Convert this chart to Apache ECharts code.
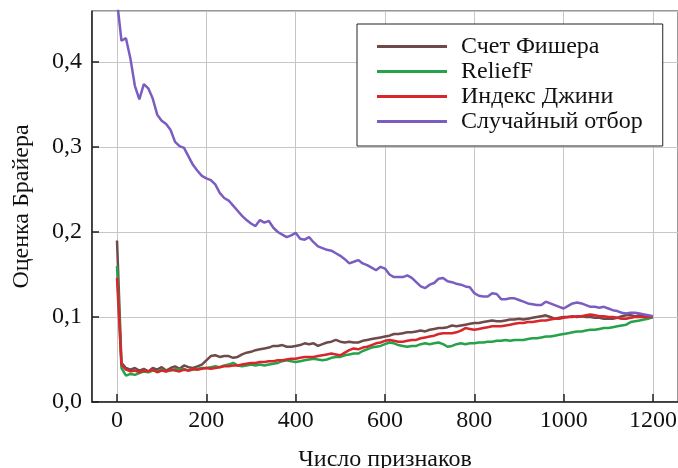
<!DOCTYPE html>
<html>
<head>
<meta charset="utf-8">
<script src="https://cdn.jsdelivr.net/npm/echarts@6/dist/echarts.min.js"></script>
<style>
  html, body { margin: 0; padding: 0; background: #fff; }
  #chart { width: 678px; height: 468px; }
</style>
</head>
<body>
<div id="chart"></div>
<script>
// число признаков: 0, 10, ..., 1200
const featureCounts = Array.from({ length: 121 }, (_, i) => i * 10)

const seriesNames = ['Счет Фишера', 'ReliefF', 'Индекс Джини', 'Случайный отбор']

const fisherScore = [
  0.190, 0.046, 0.040, 0.038, 0.040, 0.037, 0.039, 0.036, 0.040, 0.038,
  0.041, 0.037, 0.040, 0.042, 0.039, 0.043, 0.041, 0.040, 0.042, 0.044,
  0.049, 0.054, 0.055, 0.053, 0.054, 0.054, 0.052, 0.053, 0.056, 0.058,
  0.059, 0.061, 0.062, 0.063, 0.064, 0.066, 0.066, 0.067, 0.065, 0.065,
  0.066, 0.067, 0.069, 0.068, 0.069, 0.066, 0.068, 0.070, 0.071, 0.073,
  0.071, 0.070, 0.071, 0.070, 0.070, 0.072, 0.073, 0.074, 0.075, 0.076,
  0.077, 0.078, 0.080, 0.080, 0.081, 0.082, 0.082, 0.083, 0.084, 0.083,
  0.085, 0.086, 0.087, 0.087, 0.088, 0.090, 0.089, 0.090, 0.091, 0.092,
  0.093, 0.093, 0.094, 0.095, 0.096, 0.095, 0.095, 0.096, 0.097, 0.097,
  0.098, 0.097, 0.098, 0.099, 0.100, 0.101, 0.102, 0.100, 0.098, 0.099,
  0.100, 0.100, 0.101, 0.100, 0.101, 0.100, 0.100, 0.099, 0.099, 0.098,
  0.098, 0.098, 0.099, 0.101, 0.102, 0.102, 0.101, 0.102, 0.101, 0.100,
  0.100
]

const reliefF = [
  0.160, 0.040, 0.031, 0.033, 0.032, 0.034, 0.036, 0.035, 0.037, 0.036,
  0.038, 0.036, 0.037, 0.039, 0.038, 0.039, 0.037, 0.038, 0.039, 0.040,
  0.040, 0.041, 0.042, 0.041, 0.043, 0.044, 0.046, 0.043, 0.042, 0.043,
  0.044, 0.043, 0.044, 0.043, 0.044, 0.045, 0.046, 0.048, 0.049, 0.048,
  0.047, 0.048, 0.049, 0.050, 0.051, 0.050, 0.049, 0.050, 0.052, 0.053,
  0.053, 0.055, 0.056, 0.057, 0.057, 0.060, 0.062, 0.064, 0.065, 0.066,
  0.068, 0.070, 0.069, 0.067, 0.066, 0.065, 0.066, 0.066, 0.068, 0.069,
  0.068, 0.069, 0.070, 0.068, 0.065, 0.066, 0.068, 0.069, 0.068, 0.069,
  0.069, 0.070, 0.070, 0.071, 0.071, 0.072, 0.072, 0.073, 0.072, 0.073,
  0.073, 0.073, 0.074, 0.075, 0.075, 0.076, 0.077, 0.077, 0.078, 0.079,
  0.080, 0.081, 0.082, 0.083, 0.083, 0.084, 0.085, 0.085, 0.086, 0.087,
  0.087, 0.088, 0.089, 0.090, 0.091, 0.094, 0.095, 0.096, 0.097, 0.098,
  0.100
]

const giniIndex = [
  0.146, 0.044, 0.038, 0.036, 0.037, 0.035, 0.037, 0.036, 0.038, 0.035,
  0.037, 0.036, 0.038, 0.037, 0.036, 0.038, 0.037, 0.039, 0.038, 0.039,
  0.040, 0.039, 0.040, 0.041, 0.042, 0.042, 0.043, 0.043, 0.044, 0.045,
  0.046, 0.046, 0.047, 0.047, 0.048, 0.048, 0.049, 0.049, 0.050, 0.051,
  0.051, 0.052, 0.053, 0.053, 0.053, 0.054, 0.055, 0.056, 0.057, 0.056,
  0.055, 0.058, 0.061, 0.063, 0.062, 0.064, 0.065, 0.067, 0.069, 0.070,
  0.072, 0.073, 0.072, 0.071, 0.071, 0.072, 0.073, 0.073, 0.075, 0.076,
  0.077, 0.078, 0.080, 0.081, 0.081, 0.081, 0.082, 0.084, 0.087, 0.086,
  0.085, 0.086, 0.087, 0.088, 0.089, 0.089, 0.089, 0.090, 0.091, 0.092,
  0.093, 0.093, 0.094, 0.094, 0.095, 0.096, 0.096, 0.097, 0.098, 0.098,
  0.099, 0.100, 0.100, 0.101, 0.101, 0.102, 0.103, 0.102, 0.101, 0.101,
  0.100, 0.100, 0.099, 0.098, 0.098, 0.099, 0.100, 0.100, 0.100, 0.100,
  0.100
]

const randomPick = [
  0.472, 0.425, 0.428, 0.404, 0.372, 0.356, 0.374, 0.369, 0.357, 0.338,
  0.331, 0.327, 0.320, 0.306, 0.301, 0.299, 0.289, 0.279, 0.272, 0.266,
  0.263, 0.261, 0.256, 0.246, 0.240, 0.237, 0.231, 0.225, 0.219, 0.214,
  0.210, 0.207, 0.214, 0.211, 0.213, 0.205, 0.200, 0.197, 0.194, 0.196,
  0.199, 0.192, 0.191, 0.194, 0.188, 0.183, 0.181, 0.179, 0.178, 0.175,
  0.172, 0.168, 0.163, 0.165, 0.167, 0.163, 0.161, 0.158, 0.155, 0.159,
  0.157, 0.150, 0.147, 0.147, 0.147, 0.149, 0.146, 0.141, 0.136, 0.134,
  0.138, 0.140, 0.145, 0.146, 0.142, 0.141, 0.139, 0.138, 0.136, 0.135,
  0.128, 0.125, 0.124, 0.124, 0.128, 0.127, 0.121, 0.121, 0.122, 0.122,
  0.120, 0.118, 0.116, 0.115, 0.114, 0.114, 0.118, 0.116, 0.114, 0.112,
  0.110, 0.113, 0.116, 0.117, 0.116, 0.114, 0.112, 0.112, 0.111, 0.112,
  0.110, 0.108, 0.107, 0.105, 0.104, 0.105, 0.105, 0.104, 0.103, 0.102,
  0.101
]

const colors = ['#6e4a4a', '#26a24a', '#d8262c', '#7b5dc2']
const font = 'Liberation Serif'

const toPairs = (values) => values.map((v, i) => [featureCounts[i], v])

const chart = echarts.init(document.getElementById('chart'), null, { renderer: 'canvas' })

const makeSeries = (name, values, color) => ({
  name,
  type: 'line',
  data: toPairs(values),
  symbol: 'none',
  lineStyle: { color, width: 2.5 },
  itemStyle: { color },
  animation: false
})

chart.setOption({
  animation: false,
  textStyle: { fontFamily: font },
  grid: {
    left: 92,
    right: 0,
    top: 11,
    bottom: 66,
    outerBoundsMode: 'none',
    containLabel: false,
    show: true,
    borderColor: '#333',
    borderWidth: 1
  },
  legend: {
    orient: 'vertical',
    left: 357,
    top: 24,
    padding: [10, 20, 12, 20],
    itemGap: 0,
    itemWidth: 70,
    itemHeight: 3,
    icon: 'rect',
    borderColor: '#222',
    borderWidth: 1,
    backgroundColor: '#fff',
    textStyle: {
      fontFamily: font,
      fontSize: 24,
      lineHeight: 25,
      color: '#111',
      padding: [0, 0, 0, 9]
    },
    data: seriesNames
  },
  xAxis: {
    type: 'value',
    min: -56,
    max: 1256,
    splitNumber: 6,
    name: 'Число признаков',
    nameLocation: 'middle',
    nameGap: 46,
    nameTextStyle: { fontFamily: font, fontSize: 24, color: '#111' },
    axisLine: { onZero: false, lineStyle: { color: '#222', width: 1.5 } },
    axisTick: { inside: true, length: 8, lineStyle: { color: '#222', width: 1.5 } },
    axisLabel: {
      fontFamily: font,
      fontSize: 24,
      color: '#111',
      margin: 7,
      showMinLabel: false,
      showMaxLabel: false,
      formatter: (v) => String(v)
    },
    splitLine: { show: true, lineStyle: { color: '#c6c6c6', width: 1 } }
  },
  yAxis: {
    type: 'value',
    min: 0,
    max: 0.46,
    interval: 0.1,
    name: 'Оценка Брайера',
    nameLocation: 'middle',
    nameGap: 58,
    nameTextStyle: { fontFamily: font, fontSize: 24, color: '#111' },
    axisLine: { show: true, onZero: false, lineStyle: { color: '#222', width: 1.5 } },
    axisTick: { show: true, inside: true, length: 7, lineStyle: { color: '#222', width: 1.5 } },
    axisLabel: {
      fontFamily: font,
      fontSize: 24,
      color: '#111',
      margin: 10,
      showMaxLabel: false,
      formatter: (v) => v.toFixed(1).replace('.', ',')
    },
    splitLine: { show: true, lineStyle: { color: '#c6c6c6', width: 1 } }
  },
  series: [
    makeSeries(seriesNames[0], fisherScore, colors[0]),
    makeSeries(seriesNames[1], reliefF, colors[1]),
    makeSeries(seriesNames[2], giniIndex, colors[2]),
    makeSeries(seriesNames[3], randomPick, colors[3])
  ]
})
</script>
</body>
</html>
